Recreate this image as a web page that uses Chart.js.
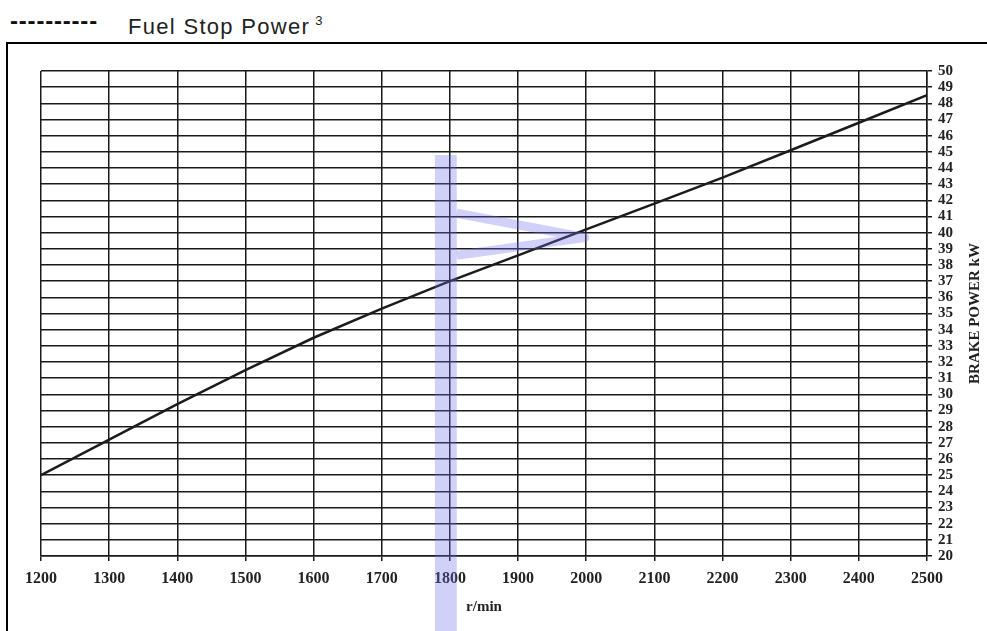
<!DOCTYPE html>
<html>
<head>
<meta charset="utf-8">
<script src="https://cdn.jsdelivr.net/npm/chart.js@4/dist/chart.umd.min.js"></script>
<style>
    html, body { margin: 0; padding: 0; background: #fff; overflow: hidden; }
    #wrap { position: relative; width: 987px; height: 631px; }
    #frame { position: absolute; left: 6px; top: 42px; width: 1000px; height: 700px; border: 2px solid #000; box-sizing: border-box; }
    #dashes { position: absolute; left: 10px; top: 6px; font: bold 24px Arial, "Liberation Sans", sans-serif; letter-spacing: 0.8px; line-height: 30px; color: #111; }
    #legendText { position: absolute; left: 128px; top: 9px; font: 22px Arial, "Liberation Sans", sans-serif; line-height: 24px; letter-spacing: 1.3px; color: #222; white-space: nowrap; }
    #legendText sup { font-size: 13px; letter-spacing: 0; vertical-align: 9px; margin-left: 5px; }
    #chart { position: absolute; left: 0; top: 0; }
</style>
</head>
<body>
<div id="wrap">
    <div id="frame"></div>
    <div id="dashes">----------</div>
    <div id="legendText">Fuel Stop Power<sup>3</sup></div>
    <canvas id="chart" width="987" height="631"></canvas>
</div>
<script>
// Engine speed (r/min) and brake power (kW)
const rpm = [1200, 1300, 1400, 1500, 1600, 1700, 1800, 1900, 2000, 2100, 2200, 2300, 2400, 2500];
const brakePower = [25.0, 27.2, 29.4, 31.5, 33.5, 35.3, 37.0, 38.6, 40.2, 41.8, 43.4, 45.1, 46.8, 48.5];

const xMin = 1200, xMax = 2500, xStep = 100;
const yMin = 20, yMax = 50, yStep = 1;

const gridColor = '#1a1a1a';
const hlColor = 'rgba(110, 110, 235, 0.32)';
const serif = '"Liberation Serif", "Times New Roman", serif';

// hand-drawn highlight at 1800 r/min (in data units)
const band = { from: 1778, to: 1810, top: 44.8 };
const flag = [[1810, 41.2], [1998, 39.7], [1810, 38.6]];

const highlightPlugin = {
    id: 'highlight',
    afterDraw(chart) {
        const { ctx, scales: { x, y } } = chart;
        ctx.save();
        ctx.fillStyle = hlColor;
        const x0 = x.getPixelForValue(band.from);
        const x1 = x.getPixelForValue(band.to);
        const yTop = y.getPixelForValue(band.top);
        ctx.fillRect(x0, yTop, x1 - x0, chart.height - yTop);

        ctx.strokeStyle = hlColor;
        ctx.lineWidth = 9;
        ctx.lineJoin = 'round';
        ctx.beginPath();
        flag.forEach((p, i) => {
            const px = x.getPixelForValue(p[0]);
            const py = y.getPixelForValue(p[1]);
            if (i === 0) ctx.moveTo(px, py); else ctx.lineTo(px, py);
        });
        ctx.stroke();
        ctx.restore();

        // right-hand axis title, reads bottom to top
        ctx.save();
        ctx.translate(y.right - 11.5, (y.top + y.bottom) / 2);
        ctx.rotate(-Math.PI / 2);
        ctx.font = `bold 15px ${serif}`;
        ctx.fillStyle = '#222';
        ctx.textAlign = 'center';
        ctx.textBaseline = 'middle';
        ctx.fillText('BRAKE POWER kW', 0, 0);
        ctx.restore();
    }
};

new Chart(document.getElementById('chart'), {
    type: 'line',
    data: {
        datasets: [{
            data: rpm.map((r, i) => ({ x: r, y: brakePower[i] })),
            borderColor: '#1c1c1c',
            borderWidth: 2.5,
            pointRadius: 0,
            tension: 0,
            fill: false
        }]
    },
    options: {
        responsive: false,
        animation: false,
        layout: { padding: { left: 41, top: 71, right: 0, bottom: 0 } },
        plugins: { legend: { display: false }, tooltip: { enabled: false } },
        scales: {
            x: {
                type: 'linear',
                min: xMin, max: xMax,
                afterFit: s => { s.height = 75; },
                ticks: {
                    stepSize: xStep,
                    padding: 8,
                    color: '#222',
                    callback: v => String(v),
                    font: { family: serif, size: 16, weight: 'bold' },
                    maxRotation: 0
                },
                grid: { color: gridColor, lineWidth: 1.5, tickLength: 5, tickColor: gridColor },
                border: { color: gridColor, width: 1.5 },
                title: {
                    display: true,
                    text: 'r/min',
                    color: '#222',
                    font: { family: serif, size: 15, weight: 'bold' },
                    padding: { top: 0, bottom: 15 }
                }
            },
            y: {
                position: 'right',
                min: yMin, max: yMax,
                afterFit: s => { s.width = 60; },
                ticks: {
                    stepSize: yStep,
                    padding: 6,
                    color: '#222',
                    autoSkip: false,
                    callback: v => String(v),
                    font: { family: serif, size: 15, weight: 'bold' }
                },
                grid: { color: gridColor, lineWidth: 1.5, tickLength: 5, tickColor: gridColor },
                border: { color: gridColor, width: 1.5 }
            }
        }
    },
    plugins: [highlightPlugin]
});
</script>
</body>
</html>
